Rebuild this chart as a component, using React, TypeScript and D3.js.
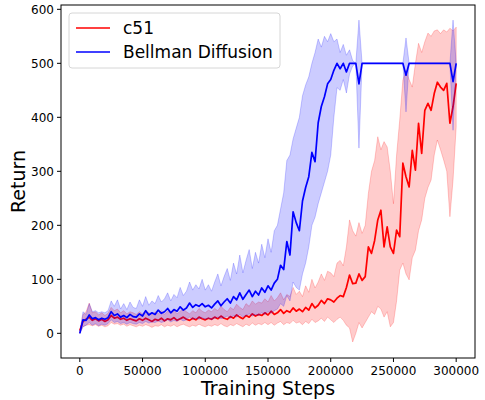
import React from "react";
import * as d3 from "d3";

// evaluation every 2500 steps, 0 .. 300000
const stepSize = 2500;

const c51Mean = [
  5, 22, 26, 30, 24, 27, 23, 26, 22, 25,
  33, 28, 30, 26, 28, 24, 27, 25, 23, 27,
  24, 28, 25, 22, 26, 24, 28, 23, 27, 25,
  29, 24, 27, 30, 26, 24, 28, 25, 30, 27,
  25, 28, 26, 30, 27, 32, 28, 26, 31, 28,
  34, 30, 27, 33, 30, 36, 32, 35, 33, 38,
  34, 41, 35, 38, 44, 37, 42, 39, 47, 41,
  45, 40, 48, 43, 55, 47, 52, 61, 55, 64,
  62, 58, 65, 70, 68, 85, 108, 92, 93, 110,
  98, 105, 160, 148, 172, 210, 228, 160, 197, 160,
  148, 191, 179, 315, 290, 271, 339, 302, 389, 333,
  413, 426, 413, 444, 465, 456, 450, 463, 389, 420,
  463,
];
const c51Lo = [
  0, 12, 15, 16, 14, 16, 13, 15, 12, 14,
  20, 17, 18, 15, 17, 13, 16, 14, 12, 15,
  13, 16, 14, 11, 14, 13, 16, 12, 15, 13,
  16, 12, 15, 17, 14, 12, 15, 13, 17, 14,
  12, 15, 13, 16, 14, 18, 14, 12, 16, 14,
  18, 15, 12, 17, 14, 19, 15, 18, 16, 20,
  16, 20, 15, 19, 22, 16, 20, 18, 24, 19,
  21, 16, 22, 18, 26, 20, 23, 28, 22, 30,
  25, 20, 26, 30, 24, 15, 10, -16, 0, 20,
  10, 20, 30, 40, 35, 50, 45, 30, 40, 12,
  20, 60, 117, 130, 110, 99, 140, 154, 190, 210,
  250, 270, 284, 330, 358, 340, 321, 300, 216, 284,
  382,
];
const c51Hi = [
  5, 35, 40, 56, 38, 40, 34, 38, 33, 37,
  48, 42, 45, 38, 42, 36, 40, 38, 35, 40,
  36, 42, 38, 34, 40, 36, 42, 35, 41, 38,
  44, 36, 41, 45, 40, 36, 42, 38, 46, 41,
  38, 43, 40, 46, 42, 50, 44, 40, 48, 44,
  54, 48, 44, 55, 50, 60, 54, 58, 56, 64,
  58, 70, 60, 66, 75, 62, 72, 68, 85, 72,
  78, 68, 88, 76, 100, 84, 95, 110, 98, 115,
  112, 105, 130, 135, 125, 160, 210, 190, 180, 205,
  185, 200, 259, 300, 320, 364, 340, 355, 345, 300,
  240, 330, 395, 469, 487, 470, 456, 500, 537, 520,
  540, 556, 550, 560, 562, 555, 562, 558, 565, 560,
  567,
];

const bdMean = [
  0, 25, 24, 34, 27, 29, 25, 28, 26, 29,
  40, 33, 36, 30, 33, 29, 35, 31, 30, 36,
  32, 42, 34, 38, 35, 43, 37, 40, 46, 38,
  44, 41, 49, 43, 47, 56, 48, 53, 50, 55,
  49, 52, 47, 54, 60, 51, 58, 64, 56, 68,
  62, 75, 63, 72, 80, 68, 78, 71, 84, 76,
  88, 80, 93, 100, 126, 118, 170, 145, 225, 205,
  190, 245, 270, 290, 335, 318, 390, 420, 438, 462,
  470, 487, 500, 490, 500, 484, 500, 500, 500, 462,
  500, 500, 500, 500, 500, 500, 500, 500, 500, 500,
  500, 500, 500, 500, 478, 500, 500, 500, 500, 500,
  500, 500, 500, 500, 500, 500, 500, 500, 500, 466,
  500,
];
const bdLo = [
  0, 12, 15, 20, 15, 18, 14, 17, 15, 18,
  25, 20, 22, 18, 20, 17, 20, 18, 17, 20,
  18, 22, 19, 21, 20, 23, 20, 22, 25, 21,
  24, 22, 26, 23, 25, 30, 26, 28, 26, 29,
  26, 28, 25, 28, 30, 27, 29, 32, 28, 33,
  30, 35, 30, 33, 36, 32, 35, 33, 38, 35,
  40, 37, 42, 45, 55, 50, 70, 60, 95, 85,
  80, 110, 130, 160, 200, 215, 240, 260, 280, 300,
  330, 400, 455, 450, 470, 445, 480, 495, 500, 343,
  500, 500, 500, 500, 500, 500, 500, 500, 500, 500,
  500, 500, 500, 500, 410, 500, 500, 500, 500, 500,
  500, 500, 500, 500, 500, 500, 500, 500, 500, 376,
  500,
];
const bdHi = [
  0, 40, 35, 55, 40, 42, 38, 40, 38, 42,
  60, 50, 62, 45, 55, 44, 58, 48, 46, 62,
  50, 68, 52, 60, 55, 70, 58, 64, 75, 60,
  72, 66, 85, 70, 78, 95, 80, 90, 82, 100,
  80, 90, 78, 95, 110, 88, 105, 120, 98, 130,
  110, 145, 112, 135, 155, 120, 150, 130, 165, 140,
  175, 150, 190, 200, 230, 260, 320, 330, 360, 380,
  400, 440, 460, 475, 500, 520, 545, 530, 550, 540,
  555, 540, 545, 520, 535, 515, 525, 505, 500, 580,
  500, 500, 500, 500, 500, 500, 500, 500, 500, 500,
  500, 500, 500, 500, 547, 500, 500, 500, 500, 500,
  500, 500, 500, 500, 500, 500, 500, 500, 500, 580,
  500,
];

const xTicks = [0, 50000, 100000, 150000, 200000, 250000, 300000];
const yTicks = [0, 100, 200, 300, 400, 500, 600];

const seriesNames = ["c51", "Bellman Diffusion"];
const seriesColors = ["#ff0000", "#0000ff"];

const W = 485;
const H = 400;
const left = 61;
const right = 475;
const top = 5;
const bottom = 358;
const font = "DejaVu Sans, sans-serif";

export default function App() {
  const x = d3.scaleLinear().domain([-15000, 315000]).range([left, right]);
  const y = d3.scaleLinear().domain([-45.7, 608]).range([bottom, top]);

  const series = [
    { mean: c51Mean, lo: c51Lo, hi: c51Hi },
    { mean: bdMean, lo: bdLo, hi: bdHi },
  ];

  const line = d3
    .line<number>()
    .x((_, i) => x(i * stepSize))
    .y((d) => y(d));

  const area = (lo: number[], hi: number[]) =>
    d3
      .area<number>()
      .x((_, i) => x(i * stepSize))
      .y0((_, i) => y(lo[i]))
      .y1((_, i) => y(hi[i]))(lo) as string;

  return (
    <svg
      width={W}
      height={H}
      style={{ position: "absolute", left: 0, top: 0, background: "#fff" }}
      fontFamily={font}
    >
      <defs>
        <clipPath id="plot">
          <rect x={left} y={top} width={right - left} height={bottom - top} />
        </clipPath>
      </defs>

      <g clipPath="url(#plot)">
        {series.map((s, k) => (
          <g key={k}>
            <path
              d={area(s.lo, s.hi)}
              fill={seriesColors[k]}
              fillOpacity={0.2}
              stroke={seriesColors[k]}
              strokeOpacity={0.2}
              strokeWidth={1}
            />
            <path
              d={line(s.mean) as string}
              fill="none"
              stroke={seriesColors[k]}
              strokeWidth={1.7}
              strokeLinejoin="round"
            />
          </g>
        ))}
      </g>

      {/* frame */}
      <rect
        x={left}
        y={top}
        width={right - left}
        height={bottom - top}
        fill="none"
        stroke="#000"
        strokeWidth={1}
      />

      {/* x axis */}
      {xTicks.map((t) => (
        <g key={t} transform={`translate(${x(t)},${bottom})`}>
          <line y2={4} stroke="#000" />
          <text y={17} textAnchor="middle" fontSize={12}>
            {t}
          </text>
        </g>
      ))}
      <text x={268} y={395} textAnchor="middle" fontSize={19}>
        Training Steps
      </text>

      {/* y axis */}
      {yTicks.map((t) => (
        <g key={t} transform={`translate(${left},${y(t)})`}>
          <line x2={-4} stroke="#000" />
          <text x={-7} dy="0.35em" textAnchor="end" fontSize={12}>
            {t}
          </text>
        </g>
      ))}
      <text
        transform={`translate(25,${(top + bottom) / 2}) rotate(-90)`}
        textAnchor="middle"
        fontSize={19}
      >
        Return
      </text>

      {/* legend */}
      <rect
        x={69}
        y={13}
        width={211}
        height={55}
        rx={3}
        fill="#fff"
        fillOpacity={0.8}
        stroke="#d6d6d6"
      />
      {seriesNames.map((n, k) => (
        <g key={n} transform={`translate(76,${28 + k * 24})`}>
          <line x2={34} stroke={seriesColors[k]} strokeWidth={1.7} />
          <text x={47} dy="0.35em" fontSize={17}>
            {n}
          </text>
        </g>
      ))}
    </svg>
  );
}
